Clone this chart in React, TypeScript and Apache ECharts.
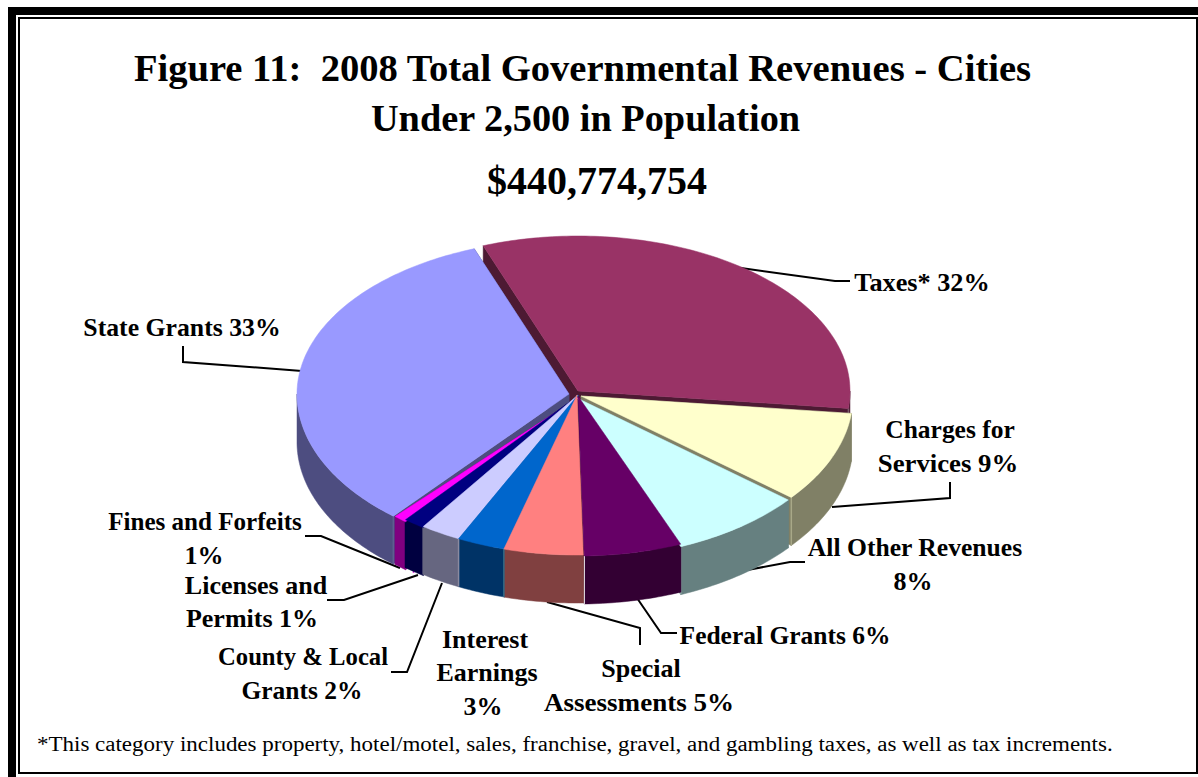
import React, { useEffect, useRef } from "react";
import * as echarts from "echarts";

const categories = ["Taxes*", "Charges for Services", "All Other Revenues", "Federal Grants", "Special Assessments", "Interest Earnings", "County & Local Grants", "Licenses and Permits", "Fines and Forfeits", "State Grants"];
const shares = [32.4, 9.2, 7.9, 5.8, 4.7, 2.9, 2.4, 1.3, 0.8, 32.6];
const topColors = ["#993366", "#FFFFCC", "#CCFFFF", "#660066", "#FF8080", "#0066CC", "#CCCCFF", "#000080", "#FF00FF", "#9999FF"];
const wallColors = ["#4D1A33", "#808066", "#668080", "#330033", "#804040", "#003366", "#666680", "#000040", "#800080", "#4D4D80"];
const edgeColors = ["#7A5A6A", "#A8A888", "#94A8A8", "#D8D0D8", "#2A6A8A", "#8A8AA0", "#666680", "#000040", "#E020E0", "#5E5E90"];
const titleLines = ["Figure 11:  2008 Total Governmental Revenues - Cities", "Under 2,500 in Population"];
const totalLabel = "$440,774,754";
const footnote = "*This category includes property, hotel/motel, sales, franchise, gravel, and gambling taxes, as well as tax increments.";
const labelLines = [
  ["Taxes* 32%"],
  ["Charges for", "Services 9%"],
  ["All Other Revenues", "8%"],
  ["Federal Grants 6%"],
  ["Special", "Assessments 5%"],
  ["Interest", "Earnings", "3%"],
  ["County & Local", "Grants 2%"],
  ["Licenses and", "Permits 1%"],
  ["Fines and Forfeits", "1%"],
  ["State Grants 33%"],
];

// Layout only (not data)
const START_DEG = -20.4;
const RX = 272, RY_BACK = 155, RY_FRONT = 160, DEPTH = 48;
const STATE_EDGE_TRIM = 2;
const centers: number[][] = [[578, 391], [581, 396], [578, 398.5], [578, 396], [577, 395], [578, 395], [578, 395], [578, 396], [578, 398], [569, 394]];
const drawOrder = [0, 9, 1, 8, 2, 7, 6, 3, 5, 4];
const labelPos: number[][][] = [
  [[922, 283]],
  [[950, 429], [948, 463]],
  [[915, 547], [913, 581]],
  [[785, 635]],
  [[641, 668], [639, 702]],
  [[485, 639], [487, 672], [483, 706]],
  [[303, 656], [302, 690]],
  [[256, 585], [252, 618]],
  [[205, 521], [204, 555]],
  [[182, 327]],
];
const labelScale: number[][] = [
  [1.01],
  [0.98, 1.03],
  [0.985, 1],
  [0.98],
  [1, 1.04],
  [1, 1, 1],
  [0.95, 0.98],
  [1, 1],
  [0.965, 1],
  [0.99],
];
const leaders: number[][][] = [
  [[741, 268], [835, 281], [850, 281]],
  [[950, 482], [950, 498], [832, 507]],
  [[742, 571], [790, 562], [805, 562]],
  [[637, 598], [661, 633], [677, 633]],
  [[547, 602], [640, 628], [640, 645]],
  [[391, 672], [407, 672], [442, 583]],
  [[327, 600], [344, 600], [418, 575]],
  [[305, 536], [321, 536], [400, 568]],
  [[183, 346], [183, 362], [302, 371]],
];
const SERIF = '"Liberation Serif", "Times New Roman", serif';

function point(i: number, deg: number, dy = 0): number[] {
  const t = (deg * Math.PI) / 180;
  const c = Math.cos(t);
  return [centers[i][0] + RX * Math.sin(t), centers[i][1] - (c > 0 ? RY_BACK : RY_FRONT) * c + dy];
}

function renderSlice(params: any, api: any) {
  const i = params.dataIndex;
  const a0 = START_DEG + api.value(1) * 3.6 - (i === 9 ? STATE_EDGE_TRIM : 0);
  const a1 = START_DEG + (api.value(1) + api.value(0)) * 3.6;
  const order = drawOrder.indexOf(i);
  const arc: number[][] = [];
  for (let d = a0; d < a1; d += 1) arc.push(point(i, d));
  arc.push(point(i, a1));
  const c = centers[i];
  const children: any[] = [];
  const poly = (pts: number[][], fill: string, z2: number) => ({
    type: "polygon",
    shape: { points: pts },
    style: { fill, stroke: fill, lineWidth: 0.5 },
    z2,
    silent: true,
  });
  const radial = (deg: number) => {
    const p = point(i, deg);
    return [[c[0], c[1]], p, [p[0], p[1] + DEPTH], [c[0], c[1] + DEPTH]];
  };
  children.push(poly(radial(a0), wallColors[i], 10 + order * 3));
  children.push(poly(radial(a1), wallColors[i], 10 + order * 3));
  const lo = Math.max(a0, 90), hi = Math.min(a1, 270);
  if (lo < hi) {
    const top: number[][] = [];
    for (let d = lo; d < hi; d += 1) top.push(point(i, d));
    top.push(point(i, hi));
    const bottom = top.map((p) => [p[0], p[1] + DEPTH]).reverse();
    children.push(poly(top.concat(bottom), wallColors[i], 11 + order * 3));
    const edgeAt = i >= 8 ? a0 : a1;
    if (edgeAt >= 90 && edgeAt <= 270) {
      const e = point(i, edgeAt);
      const inset = i === 8 ? 8 : 0;
      children.push({
        type: "line",
        shape: { x1: e[0] + inset, y1: e[1] + inset * 0.4, x2: e[0] + inset, y2: e[1] + inset * 0.4 + DEPTH },
        style: { stroke: edgeColors[i], lineWidth: 1.5 },
        z2: 12 + order * 3,
        silent: true,
      });
    }
  }
  children.push(poly([[c[0], c[1]], ...arc], topColors[i], 100 + order));
  return { type: "group", children };
}

function text(str: string, x: number, y: number, size: number, bold = true, align = "center", scaleX = 1) {
  return {
    type: "text",
    x,
    y,
    scaleX,
    silent: true,
    style: {
      text: str,
      fill: "#000",
      font: `${bold ? "bold " : ""}${size}px ${SERIF}`,
      textAlign: align,
      textVerticalAlign: "middle",
    },
  };
}

const rect = (x: number, y: number, width: number, height: number) => ({
  type: "rect",
  silent: true,
  shape: { x, y, width, height },
  style: { fill: "#000" },
});

export default function App() {
  const ref = useRef<HTMLDivElement>(null);
  useEffect(() => {
    const chart = echarts.init(ref.current!, null, { renderer: "svg" });
    let cum = 0;
    const data = categories.map((name, i) => {
      const item = { name, value: [shares[i], cum] };
      cum += shares[i];
      return item;
    });
    const graphic: any[] = [
      rect(8, 7, 1190, 8),
      rect(8, 7, 8, 770),
      rect(18, 17, 1180, 2),
      rect(18, 17, 2, 757),
      rect(18, 772, 1180, 2),
      rect(1196, 17, 2, 757),
      text(titleLines[0], 582.5, 68, 38.6),
      text(titleLines[1], 585.5, 118, 38.3),
      text(totalLabel, 597, 180, 40),
      text(footnote, 37, 744, 20.5, false, "left", 1.122),
    ];
    labelLines.forEach((lines, i) =>
      lines.forEach((l, j) => graphic.push(text(l, labelPos[i][j][0], labelPos[i][j][1], 26, true, "center", labelScale[i][j])))
    );
    leaders.forEach((pts) =>
      graphic.push({
        type: "polyline",
        silent: true,
        shape: { points: pts },
        style: { stroke: "#000", lineWidth: 2, fill: "none" },
      })
    );
    chart.setOption({
      animation: false,
      backgroundColor: "#fff",
      graphic,
      series: [
        {
          type: "custom",
          coordinateSystem: "none",
          silent: true,
          renderItem: renderSlice,
          data,
          dimensions: ["share", "cumulative"],
          encode: { value: 0 },
        },
      ],
    });
    return () => chart.dispose();
  }, []);
  return <div ref={ref} style={{ position: "absolute", left: 0, top: 0, width: 1198, height: 777 }} />;
}
